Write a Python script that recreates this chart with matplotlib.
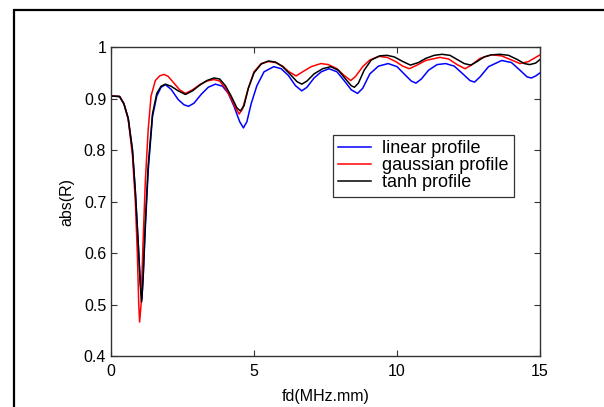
import matplotlib
matplotlib.use("Agg")
import matplotlib.pyplot as plt
from matplotlib.patches import Rectangle

plt.rcParams['font.family'] = ['Liberation Sans', 'DejaVu Sans']

# linear profile
x_lin = [0, 0.3, 0.45, 0.6, 0.75, 0.85, 0.95, 1.03, 1.08, 1.13, 1.2, 1.3, 1.45,
         1.6, 1.75, 1.9, 2.1, 2.35, 2.55, 2.71, 2.9, 3.15, 3.4, 3.65, 3.9, 4.1,
         4.3, 4.5, 4.63, 4.75, 4.9, 5.1, 5.35, 5.69, 5.95, 6.2, 6.45, 6.67, 6.85,
         7.1, 7.35, 7.62, 7.9, 8.15, 8.4, 8.62, 8.8, 9.05, 9.35, 9.69, 10.0, 10.3,
         10.5, 10.66, 10.85, 11.1, 11.4, 11.7, 12.0, 12.3, 12.55, 12.71, 12.9,
         13.2, 13.66, 14.0, 14.3, 14.55, 14.7, 14.85, 15.0]
y_lin = [0.905, 0.904, 0.89, 0.862, 0.80, 0.72, 0.62, 0.54, 0.51, 0.56, 0.65, 0.76, 0.865,
         0.905, 0.922, 0.927, 0.918, 0.898, 0.888, 0.885, 0.891, 0.908, 0.922, 0.928, 0.924, 0.91,
         0.885, 0.855, 0.843, 0.855, 0.89, 0.925, 0.952, 0.962, 0.958, 0.945, 0.925, 0.915, 0.922,
         0.94, 0.952, 0.958, 0.952, 0.935, 0.917, 0.91, 0.92, 0.948, 0.963, 0.968, 0.962, 0.945,
         0.934, 0.93, 0.938, 0.955, 0.966, 0.968, 0.963, 0.948, 0.935, 0.932, 0.942,
         0.962, 0.974, 0.97, 0.955, 0.942, 0.94, 0.944, 0.95]

# gaussian profile
x_gau = [0, 0.3, 0.45, 0.6, 0.75, 0.85, 0.92, 0.97, 1.0, 1.05, 1.12, 1.2, 1.3, 1.4,
         1.55, 1.7, 1.85, 2.0, 2.2, 2.4, 2.6, 2.85, 3.1, 3.35, 3.6, 3.8, 4.0, 4.2,
         4.35, 4.48, 4.6, 4.8, 5.0, 5.25, 5.5, 5.75, 6.0, 6.2, 6.47, 6.7, 7.0, 7.34,
         7.6, 7.9, 8.15, 8.38, 8.55, 8.8, 9.05, 9.36, 9.65, 9.95, 10.2, 10.43, 10.7,
         11.0, 11.5, 11.8, 12.1, 12.38, 12.6, 12.9, 13.3, 13.65, 14.0, 14.3, 14.6, 15.0]
y_gau = [0.905, 0.904, 0.89, 0.86, 0.79, 0.70, 0.60, 0.50, 0.466, 0.50, 0.62, 0.74, 0.84, 0.905,
         0.935, 0.944, 0.947, 0.943, 0.93, 0.917, 0.91, 0.917, 0.927, 0.934, 0.937, 0.934, 0.92, 0.90,
         0.882, 0.87, 0.88, 0.92, 0.952, 0.968, 0.972, 0.97, 0.963, 0.953, 0.944, 0.952, 0.962, 0.968,
         0.966, 0.958, 0.945, 0.935, 0.943, 0.962, 0.975, 0.982, 0.98, 0.972, 0.963, 0.958, 0.965,
         0.974, 0.98, 0.977, 0.966, 0.958, 0.965, 0.978, 0.985, 0.983, 0.975, 0.968, 0.972, 0.985]

# tanh profile
x_tanh = [0, 0.3, 0.45, 0.6, 0.75, 0.85, 0.95, 1.02, 1.07, 1.12, 1.2, 1.3, 1.45, 1.6,
          1.75, 1.9, 2.1, 2.35, 2.6, 2.85, 3.1, 3.35, 3.6, 3.8, 4.0, 4.2, 4.4, 4.52,
          4.65, 4.8, 5.0, 5.25, 5.5, 5.75, 6.0, 6.25, 6.5, 6.67, 6.85, 7.1, 7.4, 7.68,
          7.95, 8.2, 8.4, 8.51, 8.65, 8.85, 9.1, 9.4, 9.65, 9.9, 10.2, 10.47, 10.75,
          11.0, 11.3, 11.57, 11.85, 12.1, 12.35, 12.58, 12.8, 13.05, 13.3, 13.6, 13.9,
          14.2, 14.45, 14.64, 14.85, 15.0]
y_tanh = [0.905, 0.904, 0.89, 0.862, 0.80, 0.72, 0.62, 0.54, 0.505, 0.55, 0.66, 0.77, 0.87, 0.91,
          0.924, 0.928, 0.924, 0.915, 0.908, 0.915, 0.926, 0.935, 0.94, 0.938, 0.925, 0.905, 0.882, 0.876,
          0.886, 0.92, 0.95, 0.967, 0.973, 0.971, 0.962, 0.948, 0.933, 0.928, 0.934, 0.948, 0.958, 0.962,
          0.955, 0.938, 0.925, 0.922, 0.93, 0.955, 0.975, 0.983, 0.984, 0.981, 0.972, 0.965, 0.97,
          0.978, 0.984, 0.986, 0.984, 0.976, 0.968, 0.965, 0.972, 0.981, 0.985, 0.986, 0.984,
          0.976, 0.968, 0.966, 0.969, 0.976]

xticks = [0, 5, 10, 15]
yticks = [0.4, 0.5, 0.6, 0.7, 0.8, 0.9, 1]
ytick_labels = ['0.4', '0.5', '0.6', '0.7', '0.8', '0.9', '1']

fig = plt.figure(figsize=(6.04, 4.07), dpi=100)
ax = fig.add_axes([0.1838, 0.1253, 0.7103, 0.759])

ax.plot(x_lin, y_lin, color='blue', lw=1.1, label='linear profile')
ax.plot(x_gau, y_gau, color='red', lw=1.1, label='gaussian profile')
ax.plot(x_tanh, y_tanh, color='black', lw=1.1, label='tanh profile')

ax.set_xlim(0, 15)
ax.set_ylim(0.4, 1)
ax.set_xticks(xticks)
ax.set_yticks(yticks)
ax.set_yticklabels(ytick_labels)
ax.tick_params(direction='in', top=True, right=True, labelsize=11.5, length=4, color='#333333')
ax.tick_params(axis='x', pad=6)
for s in ax.spines.values():
    s.set_color('#333333')
    s.set_linewidth(1.0)

ax.set_xlabel('fd(MHz.mm)', fontsize=11.5, labelpad=7)
ax.set_ylabel('abs(R)', fontsize=11.5, labelpad=7)

leg = ax.legend(loc='upper left', bbox_to_anchor=(0.517, 0.716), fontsize=13,
                frameon=True, fancybox=False, handlelength=1.8, borderpad=0.3,
                labelspacing=0.0, handletextpad=0.65, borderaxespad=0)
leg.get_frame().set_edgecolor('black')
leg.get_frame().set_linewidth(0.9)

# outer frame of the cropped figure
fig.patches.append(Rectangle((0.0235, -0.1), 1.1, 1.0754, transform=fig.transFigure,
                             fill=False, edgecolor='black', linewidth=1.6))

fig.savefig('out.png', dpi=100)
